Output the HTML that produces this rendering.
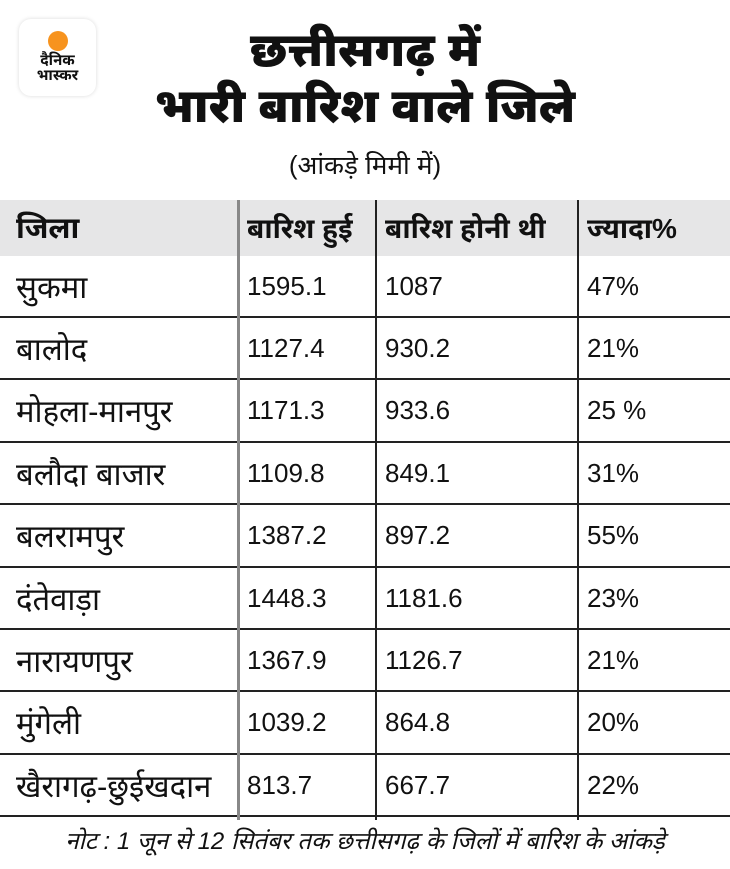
<!DOCTYPE html>
<html><head><meta charset="utf-8"><style>
body{margin:0;width:730px;height:869px;background:#fff;font-family:"Liberation Sans","Noto Sans Devanagari","Lohit Devanagari",sans-serif;color:#111;position:relative;overflow:hidden}
.logo{position:absolute;left:19px;top:19px;width:77px;height:77px;border-radius:12px;background:#fff;box-shadow:0 0 4px rgba(0,0,0,0.15);text-align:center}
.logo .dot{width:20px;height:20px;border-radius:50%;background:#f7931e;margin:12px auto 2px}
.logo .t{font-size:15px;font-weight:bold;line-height:15px}
h1{position:absolute;top:22px;left:0;width:730px;text-align:center;margin:0;font-size:47px;line-height:56px;font-weight:900}
.sub{position:absolute;top:150px;width:730px;text-align:center;font-size:26px}
.hdr{position:absolute;left:0;top:200px;width:730px;height:56px;background:#e6e6e7}
.row{position:absolute;left:0;width:730px;height:62px;border-bottom:2px solid #222;box-sizing:border-box}
.cell{position:absolute;top:0;height:100%;display:flex;align-items:center;white-space:nowrap;overflow:hidden}
.a{left:16px;width:220px;font-size:31px;top:4px}
.b{left:247px;font-size:26px}
.c{left:385px;font-size:26px}
.d{left:587px;font-size:26px}
.hdr .cell{font-weight:bold;font-size:28px;top:3px}
.vl{position:absolute;top:200px;height:620px}
.note{position:absolute;top:826px;width:730px;text-align:center;font-size:24px;font-style:italic;line-height:32px}
</style></head><body>
<div class="logo"><div class="dot"></div><div class="t">दैनिक<br>भास्कर</div></div>
<h1>छत्तीसगढ़ में<br>भारी बारिश वाले जिले</h1>
<div class="sub">(आंकड़े मिमी में)</div>
<div class="hdr"><div class="cell a" style="font-size:30px">जिला</div><div class="cell b">बारिश हुई</div><div class="cell c">बारिश होनी थी</div><div class="cell d">ज्यादा%</div></div>
<div class="row" style="top:256px"><div class="cell a">सुकमा</div><div class="cell b">1595.1</div><div class="cell c">1087</div><div class="cell d">47%</div></div>
<div class="row" style="top:318.4px"><div class="cell a">बालोद</div><div class="cell b">1127.4</div><div class="cell c">930.2</div><div class="cell d">21%</div></div>
<div class="row" style="top:380.8px"><div class="cell a">मोहला-मानपुर</div><div class="cell b">1171.3</div><div class="cell c">933.6</div><div class="cell d">25 %</div></div>
<div class="row" style="top:443.2px"><div class="cell a">बलौदा बाजार</div><div class="cell b">1109.8</div><div class="cell c">849.1</div><div class="cell d">31%</div></div>
<div class="row" style="top:505.6px"><div class="cell a">बलरामपुर</div><div class="cell b">1387.2</div><div class="cell c">897.2</div><div class="cell d">55%</div></div>
<div class="row" style="top:568px"><div class="cell a">दंतेवाड़ा</div><div class="cell b">1448.3</div><div class="cell c">1181.6</div><div class="cell d">23%</div></div>
<div class="row" style="top:630.4px"><div class="cell a">नारायणपुर</div><div class="cell b">1367.9</div><div class="cell c">1126.7</div><div class="cell d">21%</div></div>
<div class="row" style="top:692.8px"><div class="cell a">मुंगेली</div><div class="cell b">1039.2</div><div class="cell c">864.8</div><div class="cell d">20%</div></div>
<div class="row" style="top:755.2px"><div class="cell a">खैरागढ़-छुईखदान</div><div class="cell b">813.7</div><div class="cell c">667.7</div><div class="cell d">22%</div></div>
<div class="vl" style="left:237px;width:3px;background:#888"></div>
<div class="vl" style="left:375px;width:1.5px;background:#222"></div>
<div class="vl" style="left:577px;width:1.5px;background:#222"></div>
<div class="note">नोट :  1 जून से 12 सितंबर तक छत्तीसगढ़ के जिलों में बारिश के आंकड़े</div>
</body></html>
